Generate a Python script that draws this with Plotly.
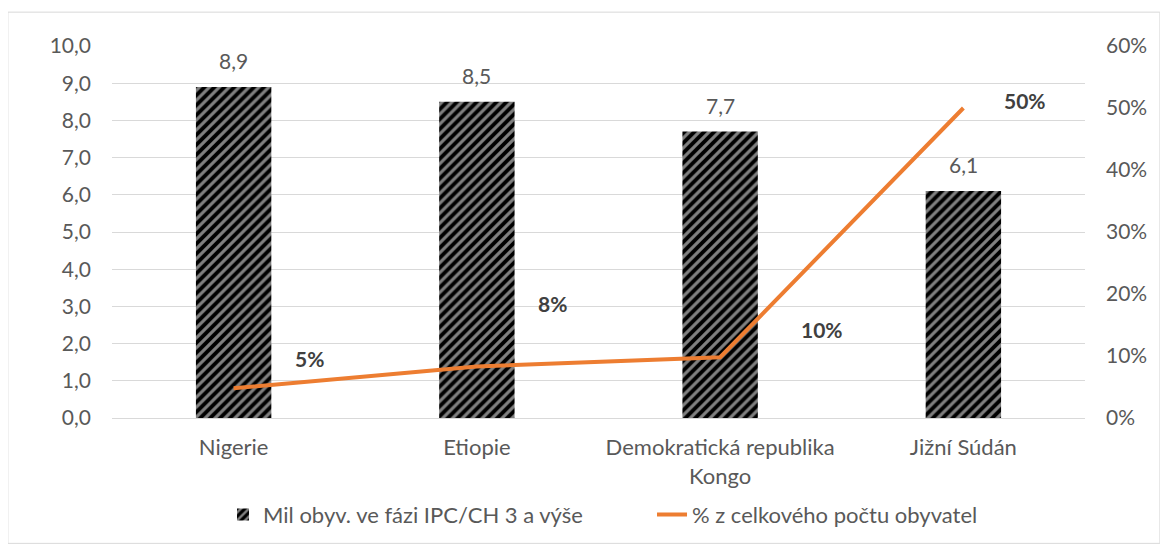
import plotly.graph_objects as go

# -------------------
# Data
# -------------------
countries = ["Nigerie", "Etiopie", "Demokratická republika<br>Kongo", "Jižní Súdán"]
people_mil = [8.9, 8.5, 7.7, 6.1]
share_pop = [0.048, 0.083, 0.098, 0.50]

bar_name = "Mil obyv. ve fázi IPC/CH 3 a výše"
line_name = "% z celkového počtu obyvatel"

# label offsets (px) for the % labels, as placed in the original
label_shift = [(76, 30), (76, 63), (102, 28), (62, 8)]

GRAY = "#595959"
ORANGE = "#ED7D31"
FONT = "Lato, 'Open Sans', sans-serif"
FS = 21
FS_TXT = 22

fig = go.Figure()

fig.add_trace(
    go.Bar(
        x=countries, y=people_mil,
        name=bar_name,
        width=0.31,
        marker=dict(
            color="black",
            line=dict(width=0),
            pattern=dict(shape="/", fgcolor="white", bgcolor="black", size=7, solidity=0.45),
        ),
    )
)

fig.add_trace(
    go.Scatter(
        x=countries, y=share_pop,
        name=line_name,
        mode="lines",
        line=dict(color=ORANGE, width=4),
        yaxis="y2",
    )
)

# value labels above the bars
for c, v in zip(countries, people_mil):
    fig.add_annotation(
        x=c, y=v, xref="x", yref="y",
        text=f"{v:.1f}".replace(".", ","),
        showarrow=False,
        yanchor="bottom", yshift=12,
        font=dict(size=FS, color=GRAY),
    )

# % labels near the line
for c, v, (dx, dy) in zip(countries, share_pop, label_shift):
    fig.add_annotation(
        x=c, y=v, xref="x", yref="y2",
        text=f"<b>{round(v * 100):.0f}%</b>",
        showarrow=False,
        xshift=dx, yshift=dy,
        font=dict(size=FS, color="#404040"),
    )

# chart border
fig.add_shape(
    type="rect", xref="paper", yref="paper",
    x0=-0.107, x1=1.077, y0=-0.337, y1=1.091,
    line=dict(color="#D9D9D9", width=1),
)

fig.update_layout(
    width=1160, height=540,
    margin=dict(l=104, r=83, t=38, b=128),
    paper_bgcolor="white",
    plot_bgcolor="white",
    separators=", ",
    font=dict(family=FONT, size=FS, color=GRAY),
    showlegend=True,
    legend=dict(
        orientation="h",
        x=0.555, xanchor="center",
        y=-0.26, yanchor="middle",
        font=dict(size=FS_TXT, color=GRAY),
        entrywidth=384, entrywidthmode="pixels",
        tracegroupgap=0,
    ),
    xaxis=dict(
        showgrid=False,
        showline=True, linecolor="#D9D9D9", linewidth=1,
        ticks="",
        tickfont=dict(size=FS_TXT, color=GRAY),
        ticklabelstandoff=10,
    ),
    yaxis=dict(
        range=[0, 10], dtick=1, tickformat=".1f",
        showgrid=True, gridcolor="#D9D9D9", gridwidth=1,
        zeroline=False, showline=False,
        tickfont=dict(size=FS, color=GRAY),
        ticklabelstandoff=20,
    ),
    yaxis2=dict(
        range=[0, 0.6], dtick=0.1, tickformat=".0%",
        overlaying="y", side="right",
        showgrid=False, zeroline=False, showline=False,
        tickfont=dict(size=FS, color=GRAY),
        ticklabelstandoff=20,
    ),
)

fig.write_html("out.html")
